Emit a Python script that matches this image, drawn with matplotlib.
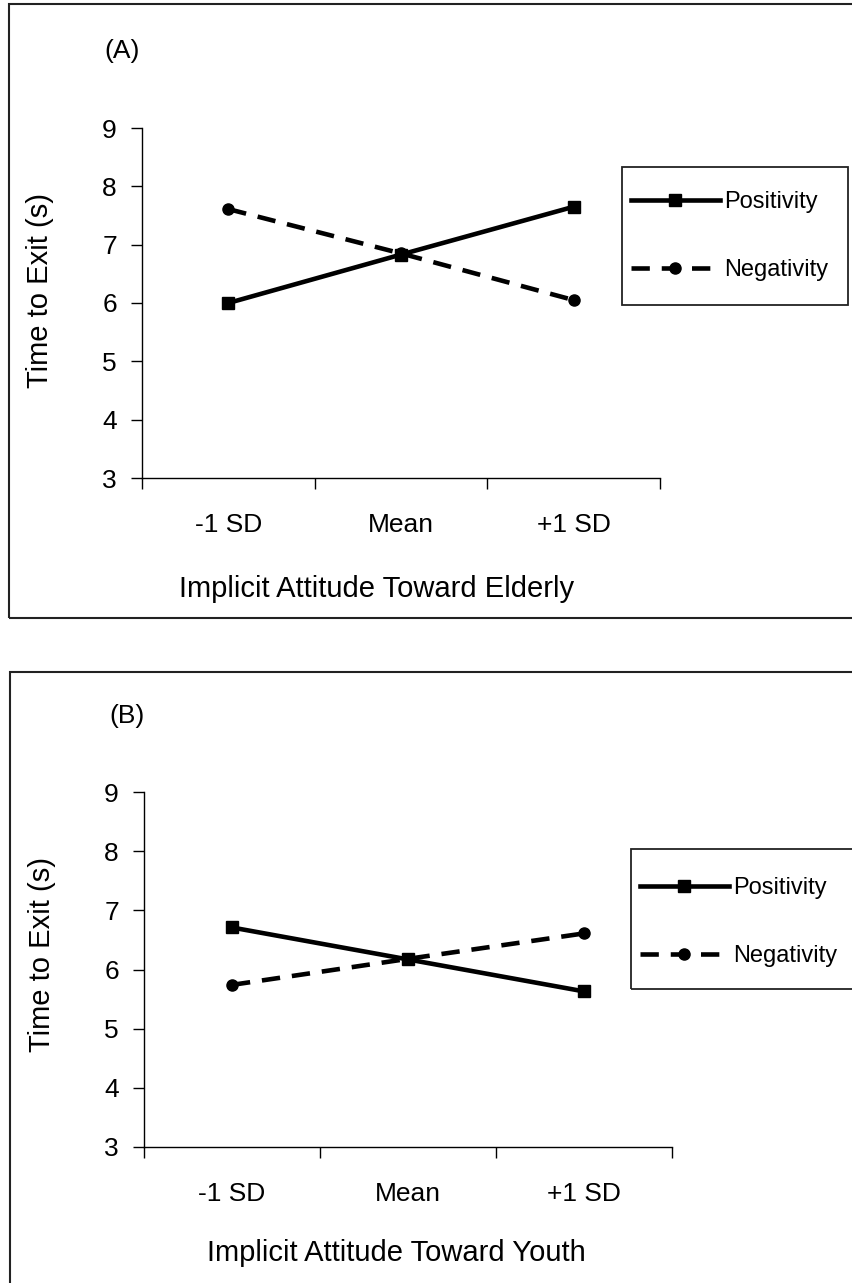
import numpy as np
import matplotlib.pyplot as plt
from matplotlib.patches import Rectangle

plt.rcParams['font.family'] = ['Liberation Sans', 'DejaVu Sans']

W, H = 853, 1283

groups = ['-1 SD', 'Mean', '+1 SD']
series = ['Positivity', 'Negativity']

# panel A: elderly
pos_A = [6.00, 6.83, 7.65]
neg_A = [7.61, 6.85, 6.05]
# panel B: youth
pos_B = [6.71, 6.17, 5.63]
neg_B = [5.74, 6.18, 6.61]

yticks = [3, 4, 5, 6, 7, 8, 9]


def px(x0, y0, x1, y1):
    # pixel box (top-left origin) -> figure fraction rect
    return [x0 / W, 1 - y1 / H, (x1 - x0) / W, (y1 - y0) / H]


def frame(x0, y0, x1, y1, lw):
    fig.patches.append(Rectangle((x0 / W, 1 - y1 / H), (x1 - x0) / W, (y1 - y0) / H,
                                 transform=fig.transFigure, fill=False, edgecolor='#222222', linewidth=lw))


fig = plt.figure(figsize=(W / 100, H / 100), dpi=100)

panels = [
    dict(tag='(A)', pos=pos_A, neg=neg_A, xlabel='Implicit Attitude Toward Elderly',
         box=(9, 4, 900, 618), ax=(142, 128, 660, 478), tagxy=(122, 51),
         ylab=(40, 290), xlab=(377, 589), legbox=(622, 167, 848, 305), legxy=(631, 236)),
    dict(tag='(B)', pos=pos_B, neg=neg_B, xlabel='Implicit Attitude Toward Youth',
         box=(10, 672, 900, 1320), ax=(144, 792, 672, 1147), tagxy=(127, 716),
         ylab=(42, 955), xlab=(396, 1253), legbox=(631, 849, 900, 989), legxy=(640, 922)),
]

for p in panels:
    frame(*p['box'], 1.5)

    ax = fig.add_axes(px(*p['ax']))
    x = np.arange(1, len(groups) + 1)
    ax.plot(x, p['pos'], color='black', linewidth=3.3, marker='s', markersize=9, label=series[0])
    ax.plot(x, p['neg'], color='black', linewidth=3.3, linestyle=(0, (4, 2.6)), marker='o', markersize=8,
            label=series[1])

    ax.set_xlim(0.5, len(groups) + 0.5)
    ax.set_ylim(3, 9)
    ax.set_yticks(yticks)
    ax.set_xticks(np.arange(0.5, len(groups) + 1, 1))
    ax.set_xticklabels([])
    ax.set_xticks(x, minor=True)
    ax.set_xticklabels(groups, minor=True)
    ax.tick_params(axis='x', which='minor', length=0, pad=25, labelsize=19)
    ax.tick_params(axis='x', which='major', length=8, width=1)
    ax.tick_params(axis='y', length=8, width=1, pad=10, labelsize=19)
    for s in ['top', 'right']:
        ax.spines[s].set_visible(False)
    for s in ['left', 'bottom']:
        ax.spines[s].set_linewidth(1)
    ax.patch.set_alpha(0)

    fig.text(p['tagxy'][0] / W, 1 - p['tagxy'][1] / H, p['tag'], fontsize=19, ha='center', va='center')
    fig.text(p['ylab'][0] / W, 1 - p['ylab'][1] / H, 'Time to Exit (s)', fontsize=21,
             rotation=90, ha='center', va='center')
    fig.text(p['xlab'][0] / W, 1 - p['xlab'][1] / H, p['xlabel'], fontsize=21, ha='center', va='center')

    # legend: entries from the plotted lines, frame drawn separately
    frame(*p['legbox'], 1.3)
    lx, ly = p['legxy']
    ax.legend(loc='center left', bbox_to_anchor=(lx / W, 1 - ly / H), bbox_transform=fig.transFigure,
              fontsize=17, frameon=False, borderpad=0, labelspacing=1.95, handlelength=3.75,
              handletextpad=0.18, borderaxespad=0, numpoints=1)

fig.savefig('out.png', dpi=100)
